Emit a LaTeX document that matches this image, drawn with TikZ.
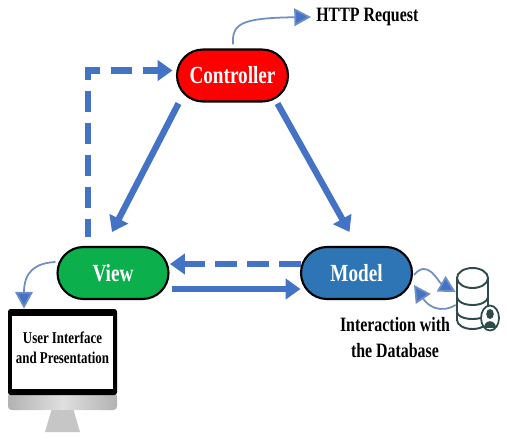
\documentclass[tikz,border=0pt]{standalone}
\usepackage{fontspec}
\setmainfont{Liberation Serif}
\newfontfamily\narrowfont[FakeStretch=0.78]{Liberation Serif}
\usetikzlibrary{arrows.meta,shapes.misc}
\definecolor{arrowblue}{HTML}{4472C4}
\definecolor{thinblue}{HTML}{6F8FC4}
\definecolor{dbslate}{HTML}{2F4A4A}
\tikzset{
  mvcbox/.style={rounded rectangle, draw=black, line width=1.2pt, minimum width=2.22cm, minimum height=1.04cm, inner sep=0pt, text=white, font=\narrowfont\fontsize{14}{14}\selectfont\bfseries},
  bigarrow/.style={-{Triangle[length=8.5pt,width=11.5pt]}, line width=3.6pt, arrowblue},
  dasharrow/.style={bigarrow, dash pattern=on 12pt off 6.2pt},
  thinarrow/.style={-{Triangle[length=9.5pt,width=10pt,fill=arrowblue]}, line width=1pt, thinblue},
  labeltext/.style={font=\narrowfont\fontsize{11.6}{14.8}\selectfont\bfseries, align=center, inner sep=0pt}
}
\begin{document}
\begin{tikzpicture}[x=0.02cm, y=-0.02cm]
\useasboundingbox (0,0) rectangle (507,440);

% Controller, View, Model
\node[mvcbox, fill=red] (ctrl) at (232.5,75.5) {Controller};
\node[mvcbox, fill={rgb,255:red,11;green,175;blue,76}] (view) at (113,273) {View};
\node[mvcbox, fill={rgb,255:red,46;green,117;blue,182}] (model) at (356.5,273) {Model};

% Monitor
\fill[gray!45] (52,408) -- (73,408) -- (80,432) -- (45,432) -- cycle;
\shade[left color=gray!60, right color=gray!60, middle color=gray!25, rounded corners=2pt] (8,393) rectangle (117,410);
\fill[black, rounded corners=1.5pt] (8,309) rectangle (117,395);
\node[fill=white, minimum width=2.02cm, minimum height=1.46cm, inner sep=0pt] (screen) at (62.5,352.5) {};
\node[align=center, inner sep=0pt, font=\narrowfont\fontsize{9.4}{11.4}\selectfont\bfseries] (screentext) at (62.5,347.5) {User Interface\\and Presentation};

% Database
\node[minimum width=0.62cm, minimum height=1.2cm, inner sep=0pt] (db) at (472.5,298) {};
\draw[dbslate, line width=1.1pt, fill=white] (457,278) -- (457,320) arc[start angle=180, end angle=360, x radius=15.5, y radius=-9] -- (488,278);
\draw[dbslate, line width=1.1pt] (472.5,278) ellipse[x radius=15.5, y radius=10];
\draw[dbslate, line width=1.1pt] (457,297) arc[start angle=180, end angle=360, x radius=15.5, y radius=-8];
\draw[dbslate, line width=1.1pt] (457,312) arc[start angle=180, end angle=360, x radius=15.5, y radius=-7];
\draw[dbslate, line width=1pt, fill=white] (490,318) ellipse[x radius=9, y radius=12.5];
\fill[dbslate] (490,314) ellipse[x radius=3.8, y radius=5];
\fill[dbslate] (484,328) .. controls (484,319) and (496,319) .. (496,328) -- cycle;

% Labels
\node[labeltext, anchor=west] (http) at (316,17) {HTTP Request};
\node[labeltext] (dbtext) at (395,338) {Interaction with\\the Database};

% Arrows
\draw[bigarrow] ([shift={(-54,28)}]ctrl.center) -- ([shift={(-1,-41)}]view.center);
\draw[bigarrow] ([shift={(45,28)}]ctrl.center) -- ([shift={(-7,-41)}]model.center);
\draw[dasharrow, dash phase=1.5pt] ([shift={(-25,-36)}]view.center) |- ([shift={(-60,-5)}]ctrl.center);
\draw[dasharrow] ([shift={(-56,-9)}]model.center) -- ([shift={(57,-9)}]view.center);
\draw[bigarrow] ([shift={(59,16)}]view.center) -- ([shift={(-56,16)}]model.center);

% Thin arrows
\draw[thinarrow] ([shift={(0.5,-4)}]ctrl.north) .. controls (232,24) and (240,18) .. ([shift={(-5,0)}]http.west);
\draw[thinarrow] ([shift={(-1,-11)}]view.west) .. controls (35,263) and (24,272) .. ([shift={(-38.5,-7)}]screen.north);
\draw[thinarrow] ([shift={(1,2)}]model.east) .. controls (428,258) and (438,282) .. ([shift={(-1,-6)}]db.west);
\draw[thinarrow] ([shift={(-1,7)}]db.west) .. controls (440,314) and (428,306) .. ([shift={(1,12)}]model.east);
\end{tikzpicture}
\end{document}
